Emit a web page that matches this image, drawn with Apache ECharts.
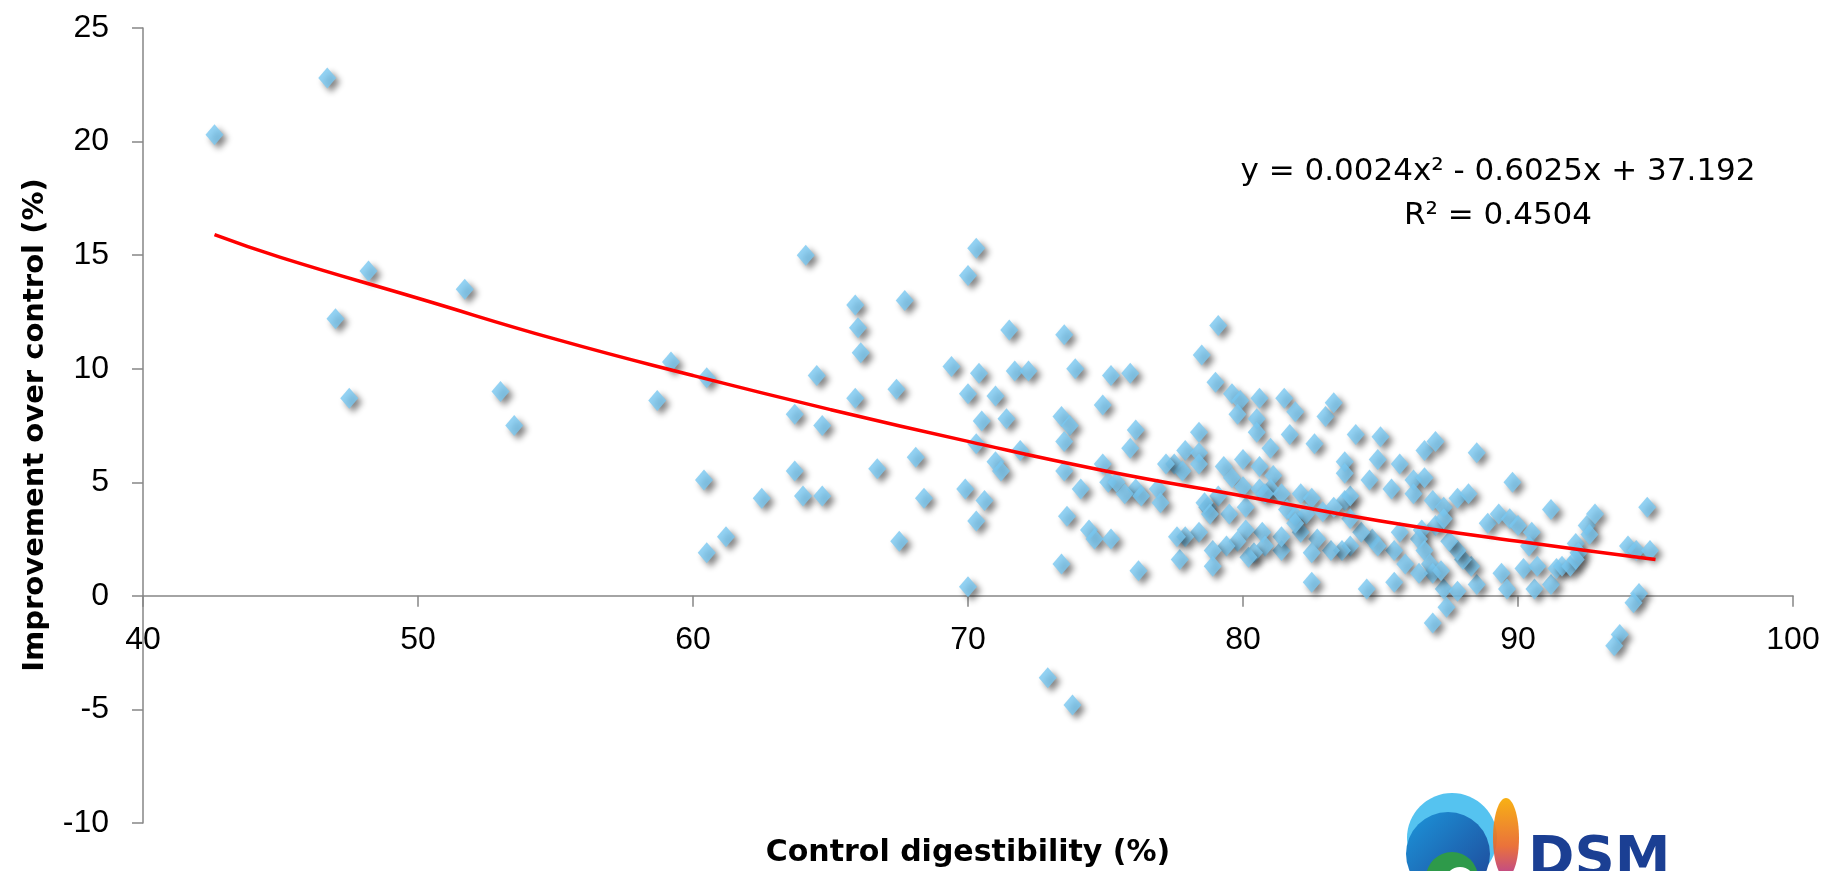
<!DOCTYPE html>
<html>
<head>
<meta charset="utf-8">
<script src="https://cdn.jsdelivr.net/npm/echarts@6/dist/echarts.min.js"></script>
<style>
html,body{margin:0;padding:0;background:#fff;}
#chart{width:1839px;height:871px;}
</style>
</head>
<body>
<div id="chart"></div>
<script>
// Control digestibility (%) for each observation
const digestX = [
  42.6, 46.7, 47.0, 47.5, 48.2, 51.7, 53.0, 53.5,
  58.7, 59.2, 60.5, 60.4, 60.5, 61.2, 62.5, 64.1, 64.5, 63.7, 64.7, 63.7,
  64.0, 64.7, 65.9, 66.0, 66.1, 65.9, 67.7, 67.4, 66.7, 68.1, 68.4, 67.5,
  70.3, 70.0, 69.4, 70.4, 70.0, 71.0, 70.5, 71.4, 70.3, 71.0, 71.2, 69.9,
  70.6, 70.3, 70.0, 71.5, 71.7, 72.2, 71.9, 73.5, 73.9, 73.4, 73.7, 73.5,
  73.5, 74.1, 73.6, 73.4, 74.9, 75.2, 75.9, 74.9, 75.1, 74.4, 74.6, 75.2,
  76.1, 75.9, 75.4, 76.1, 75.7, 76.3, 76.2, 79.1, 72.9, 73.8,
  78.5, 79.0, 79.6, 79.9, 79.8, 80.6, 80.5, 80.5, 81.5, 81.9, 81.7, 81.0,
  82.6, 83.0, 83.3, 78.4, 77.9, 78.4, 77.5, 77.8, 76.9, 77.0, 78.4, 79.3,
  79.6, 80.0, 80.6, 81.1, 81.0, 79.1, 78.7, 79.5, 80.1, 80.0, 80.6, 80.8,
  81.4, 81.6, 81.9, 82.1, 82.5, 82.3, 82.9, 83.7, 83.9, 83.7, 83.7, 84.1,
  85.0, 84.9, 84.6, 85.4, 85.7, 86.2, 86.6, 87.0, 86.2, 86.6, 86.9, 87.3,
  87.8, 88.2, 88.5, 89.8, 88.9, 89.3, 89.7, 90.0, 90.5, 90.4, 91.2, 92.1,
  92.5, 92.8, 92.6, 94.0, 94.3, 94.8, 94.7, 94.4, 94.2, 93.7, 93.5, 89.4,
  89.6, 90.6, 91.2, 90.2, 90.7, 91.4, 91.6, 91.9, 92.2, 92.1, 87.3, 87.8,
  87.4, 86.9, 88.5, 88.3, 88.0, 87.8, 87.5, 87.0, 87.3, 86.5, 86.4, 86.6,
  86.8, 86.9, 87.2, 85.7, 85.5, 85.9, 86.4, 85.5, 84.5, 84.7, 84.9, 84.3,
  83.9, 83.3, 83.9, 83.6, 83.2, 82.7, 82.5, 82.5, 82.1, 81.9, 81.4, 81.4,
  80.7, 80.8, 80.4, 80.1, 80.2, 79.8, 79.4, 78.9, 78.9, 78.4, 77.9, 77.7,
  78.6, 78.8, 77.2, 77.6
];
// Improvement over control (%) for each observation
const improveY = [
  20.3, 22.8, 12.2, 8.7, 14.3, 13.5, 9.0, 7.5,
  8.6, 10.3, 9.6, 5.1, 1.9, 2.6, 4.3, 15.0, 9.7, 8.0, 7.5, 5.5,
  4.4, 4.4, 12.8, 11.8, 10.7, 8.7, 13.0, 9.1, 5.6, 6.1, 4.3, 2.4,
  15.3, 14.1, 10.1, 9.8, 8.9, 8.8, 7.7, 7.8, 6.7, 5.9, 5.5, 4.7,
  4.2, 3.3, 0.4, 11.7, 9.9, 9.9, 6.4, 11.5, 10.0, 7.9, 7.5, 6.8,
  5.5, 4.7, 3.5, 1.4, 8.4, 9.7, 9.8, 5.8, 5.0, 2.9, 2.5, 2.5,
  7.3, 6.5, 5.0, 4.7, 4.5, 4.4, 1.1, 11.9, -3.6, -4.8,
  10.6, 9.4, 8.9, 8.6, 8.0, 8.7, 7.8, 7.2, 8.7, 8.1, 7.1, 6.5,
  6.7, 7.9, 8.5, 7.2, 6.4, 6.3, 5.8, 5.5, 4.7, 4.1, 5.8, 5.7,
  5.2, 6.0, 5.7, 5.3, 4.7, 4.4, 3.9, 3.6, 3.9, 4.8, 4.7, 4.5,
  4.5, 3.8, 3.5, 4.5, 4.3, 3.6, 3.7, 4.2, 4.4, 5.9, 5.4, 7.1,
  7.0, 6.0, 5.1, 4.7, 5.8, 5.1, 6.4, 6.8, 4.5, 5.2, 4.2, 3.9,
  4.3, 4.5, 6.3, 5.0, 3.2, 3.6, 3.4, 3.1, 2.8, 2.2, 3.8, 2.3,
  3.1, 3.6, 2.7, 2.2, 2.0, 2.0, 3.9, 0.1, -0.3, -1.7, -2.2, 1.0,
  0.3, 0.3, 0.5, 1.2, 1.3, 1.2, 1.3, 1.3, 1.9, 1.6, 0.3, 0.2,
  -0.5, -1.2, 0.5, 1.3, 1.6, 2.0, 2.4, 3.1, 3.4, 2.9, 2.5, 2.0,
  1.4, 1.0, 1.1, 2.8, 2.0, 1.4, 1.0, 0.6, 0.3, 2.5, 2.2, 2.8,
  3.4, 3.9, 2.2, 2.0, 2.0, 2.5, 1.9, 0.6, 2.8, 3.2, 2.0, 2.6,
  2.8, 2.2, 1.9, 2.9, 1.7, 2.4, 2.2, 2.0, 1.3, 2.8, 2.6, 1.6,
  4.1, 3.6, 5.8, 2.6
];
// Red polynomial trend line
const trendX = [42.6, 45, 50, 55, 60, 65, 70, 75, 80, 85, 90, 95];
const trendY = [15.9, 14.9, 13.1, 11.3, 9.7, 8.2, 6.8, 5.5, 4.4, 3.3, 2.4, 1.6];

const equationLine1 = 'y = 0.0024x\u00B2 - 0.6025x + 37.192';
const equationLine2 = 'R\u00B2 = 0.4504';
const xTitle = 'Control digestibility (%)';
const yTitle = 'Improvement over control (%)';

const yMin = -10, yMax = 25;
const points = digestX.map((x, i) => [x, improveY[i]]);
const trend = trendX.map((x, i) => [x, trendY[i]]);

const gridTop = 28, gridBottom = 48, H = 871;
const gridH = H - gridTop - gridBottom;
// move the x axis (line, ticks and labels) up to y = 0
const xAxisOffset = -gridH * (0 - yMin) / (yMax - yMin);

const chart = echarts.init(document.getElementById('chart'), null, {renderer: 'canvas'});
const axisColor = '#868686';
const tickFont = {fontFamily: 'Liberation Sans', fontSize: 32, color: '#000'};

chart.setOption({
  animation: false,
  backgroundColor: '#fff',
  grid: {left: 143, right: 46, top: gridTop, bottom: gridBottom, containLabel: false},
  xAxis: {
    type: 'value', min: 40, max: 100, interval: 10,
    position: 'bottom',
    offset: xAxisOffset,
    axisLine: {show: true, onZero: false, lineStyle: {color: axisColor, width: 1.5}},
    axisTick: {show: true, length: 11, lineStyle: {color: axisColor, width: 1.5}},
    axisLabel: Object.assign({margin: 28}, tickFont),
    splitLine: {show: false}
  },
  yAxis: {
    type: 'value', min: yMin, max: yMax, interval: 5,
    axisLine: {show: true, lineStyle: {color: axisColor, width: 1.5}},
    axisTick: {show: true, length: 11, lineStyle: {color: axisColor, width: 1.5}},
    axisLabel: Object.assign({margin: 34}, tickFont),
    splitLine: {show: false}
  },
  series: [
    {
      type: 'scatter',
      data: points,
      symbol: 'diamond',
      symbolSize: [18, 21],
      itemStyle: {
        color: '#79C8F1',
        shadowBlur: 6,
        shadowColor: 'rgba(0,0,0,0.6)',
        shadowOffsetX: 4,
        shadowOffsetY: 4
      },
      z: 2
    },
    {
      type: 'line',
      data: trend,
      smooth: true,
      showSymbol: false,
      symbol: 'none',
      lineStyle: {color: '#FF0000', width: 3.5},
      z: 3
    }
  ],
  graphic: [
    {
      type: 'text', x: 35, y: 425, rotation: Math.PI / 2,
      style: {text: yTitle, font: 'bold 29px "DejaVu Sans"', fill: '#000', textAlign: 'center', textVerticalAlign: 'middle'}
    },
    {
      type: 'text', x: 968, y: 853,
      style: {text: xTitle, font: 'bold 30px "DejaVu Sans"', fill: '#000', textAlign: 'center', textVerticalAlign: 'middle'}
    },
    {
      type: 'text', x: 1498, y: 172,
      style: {text: equationLine1, font: '31px "DejaVu Sans"', fill: '#000', textAlign: 'center', textVerticalAlign: 'middle'}
    },
    {
      type: 'text', x: 1498, y: 216,
      style: {text: equationLine2, font: '31px "DejaVu Sans"', fill: '#000', textAlign: 'center', textVerticalAlign: 'middle'}
    },
    // DSM logo (approximation)
    {type: 'circle', shape: {cx: 1452, cy: 838, r: 45}, style: {fill: '#55C3F0'}, z: 10},
    {type: 'circle', shape: {cx: 1448, cy: 854, r: 42},
      style: {fill: new echarts.graphic.LinearGradient(0, 0, 1, 1, [{offset: 0, color: '#1C95DA'}, {offset: 1, color: '#1F4596'}])}, z: 11},
    {type: 'circle', shape: {cx: 1452, cy: 878, r: 26}, style: {fill: '#2E9A4A'}, z: 12},
    {type: 'circle', shape: {cx: 1460, cy: 882, r: 15}, style: {fill: '#fff'}, z: 13},
    {type: 'ellipse', shape: {cx: 1506, cy: 838, rx: 13, ry: 40},
      style: {fill: new echarts.graphic.LinearGradient(0, 0, 0, 1, [{offset: 0, color: '#F7AA00'}, {offset: 0.6, color: '#E8662A'}, {offset: 1, color: '#B5338A'}]), opacity: 0.92}, z: 14},
    {
      type: 'text', x: 1528, y: 860,
      style: {text: 'DSM', font: 'bold 56px "DejaVu Sans"', fill: '#1B3F93', textAlign: 'left', textVerticalAlign: 'middle'}, z: 15
    }
  ]
});
</script>
</body>
</html>
